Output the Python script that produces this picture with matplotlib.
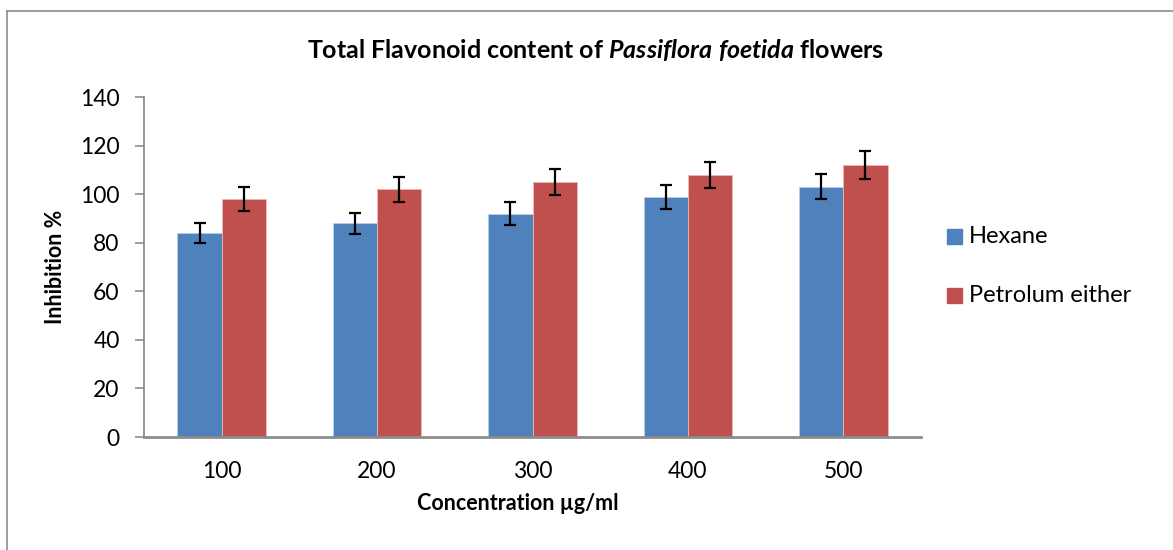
import matplotlib
matplotlib.use("Agg")
import matplotlib.pyplot as plt
from matplotlib.lines import Line2D
from matplotlib.patches import Rectangle
import numpy as np

categories = ["100", "200", "300", "400", "500"]
hexane = [84, 88, 92, 99, 103]
hexane_err = [4.2, 4.4, 4.6, 4.95, 5.15]
petrol = [98, 102, 105, 108, 112]
petrol_err = [4.9, 5.1, 5.25, 5.4, 5.6]
series_names = ["Hexane", "Petrolum either"]
yticks = [0, 20, 40, 60, 80, 100, 120, 140]

plt.rcParams['font.family'] = ['Lato', 'DejaVu Sans']
plt.rcParams['mathtext.fontset'] = 'custom'
plt.rcParams['mathtext.it'] = 'Lato:italic:bold'
plt.rcParams['mathtext.rm'] = 'Lato:bold'
plt.rcParams['mathtext.bf'] = 'Lato:bold'

W, H = 1173, 550
fig = plt.figure(figsize=(W / 100, H / 100), dpi=100)
ax = fig.add_axes([144 / W, 1 - 437 / H, (921 - 144) / W, (437 - 97) / H])

x = np.arange(len(categories))
bw = 0.285
blue = "#4F81BD"
red = "#C0504D"
ax.bar(x - bw / 2, hexane, bw, color=blue, edgecolor="#B9CDE5", linewidth=0.6, label=series_names[0], zorder=2)
ax.bar(x + bw / 2, petrol, bw, color=red, edgecolor="#E6B9B8", linewidth=0.6, label=series_names[1], zorder=2)
ax.errorbar(x - bw / 2, hexane, yerr=hexane_err, fmt="none", ecolor="black", elinewidth=1.6, capsize=4.5, capthick=1.6, zorder=3)
ax.errorbar(x + bw / 2, petrol, yerr=petrol_err, fmt="none", ecolor="black", elinewidth=1.6, capsize=4.5, capthick=1.6, zorder=3)

ax.set_xlim(-0.5, len(categories) - 0.5)
ax.set_ylim(0, 140)
ax.set_yticks(yticks)
ax.set_xticks(x)
ax.set_xticklabels(categories)

for s in ["top", "right"]:
    ax.spines[s].set_visible(False)
ax.spines["left"].set_color("#8C8C8C")
ax.spines["left"].set_linewidth(1.3)
ax.spines["bottom"].set_color("#8C8C8C")
ax.spines["bottom"].set_linewidth(2.0)
ax.tick_params(axis="y", direction="out", length=6.5, width=1.2, color="#8C8C8C", pad=11, labelsize=16.5)
ax.tick_params(axis="x", length=0, pad=17, labelsize=16.5)

fig.text(56 / W, 1 - 267 / H, "Inhibition %", rotation=90, ha="center", va="center", fontsize=15.5, fontweight="bold")
fig.text(518 / W, 1 - 503 / H, "Concentration µg/ml", ha="center", va="center", fontsize=15.5, fontweight="bold")

fig.text(596 / W, 1 - 50 / H, "Total Flavonoid content of $\\it{Passiflora\\ foetida}$ flowers",
         ha="center", va="center", fontsize=18, fontweight="bold")

for i, (name, col) in enumerate(zip(series_names, [blue, red])):
    yc = [236.5, 295][i]
    fig.add_artist(Rectangle((947 / W, 1 - (yc + 7.5) / H), 15 / W, 15 / H, transform=fig.transFigure, color=col))
    fig.text(969 / W, 1 - yc / H, name, ha="left", va="center", fontsize=17)

fig.add_artist(Line2D([7 / W, 7 / W], [0, 1 - 11 / H], transform=fig.transFigure, color="#8C8C8C", linewidth=1.2))
fig.add_artist(Line2D([7 / W, 1], [1 - 11 / H, 1 - 11 / H], transform=fig.transFigure, color="#8C8C8C", linewidth=1.2))

fig.savefig("out.png", dpi=100)
